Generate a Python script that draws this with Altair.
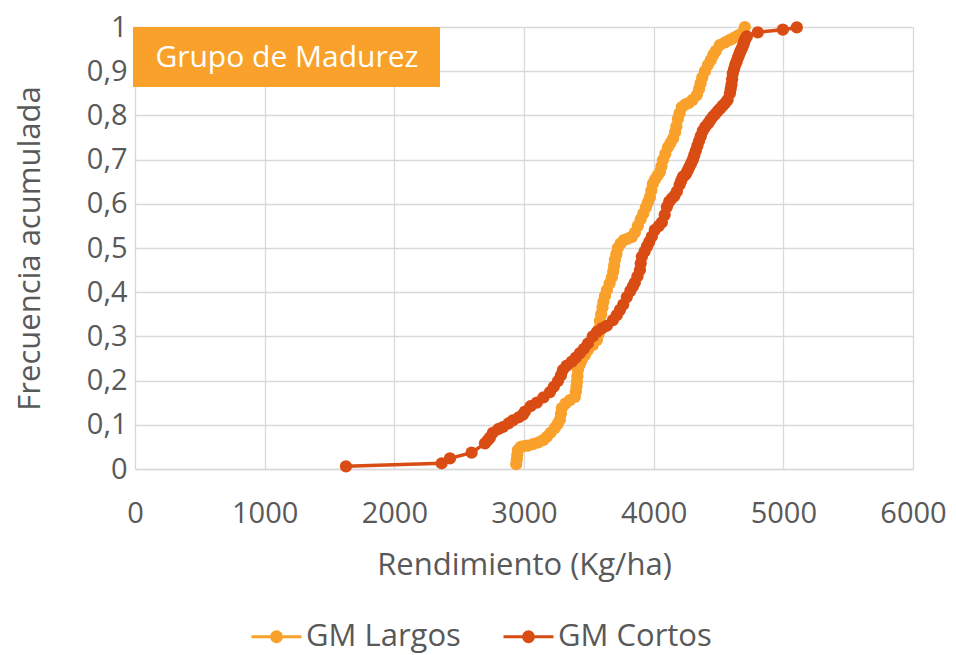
import altair as alt
import pandas as pd

series_names = ["GM Largos", "GM Cortos"]
series_colors = ["#F9A12A", "#D94C13"]

largos_x = [2940, 2945, 2948, 2953, 2975, 3000, 3030, 3069, 3110, 3150, 3177, 3205, 3238, 3260, 3277,
            3285, 3292, 3320, 3354, 3392, 3400, 3405, 3408, 3412, 3416, 3430, 3446, 3470, 3493,
            3530, 3562, 3575, 3580, 3585, 3595, 3605, 3612, 3625, 3639, 3660, 3678, 3688, 3695,
            3701, 3712, 3724, 3745, 3770, 3800, 3832, 3855, 3878, 3900, 3920, 3940, 3955, 3971,
            3982, 3994, 4010, 4030, 4048, 4060, 4071, 4090, 4110, 4130, 4150, 4165, 4175, 4187,
            4200, 4217, 4245, 4270, 4300, 4333, 4350, 4362, 4375, 4395, 4418, 4440, 4460, 4480,
            4510, 4550, 4588, 4615, 4640, 4665, 4690, 4703]
largos_y = [0.011, 0.022, 0.032, 0.043, 0.050, 0.052, 0.053, 0.056, 0.060, 0.066, 0.073, 0.082, 0.093,
            0.102, 0.112, 0.125, 0.138, 0.148, 0.156, 0.163, 0.175, 0.187, 0.197, 0.210, 0.224,
            0.236, 0.247, 0.258, 0.269, 0.280, 0.292, 0.305, 0.318, 0.335, 0.350, 0.365, 0.378,
            0.392, 0.405, 0.420, 0.434, 0.447, 0.460, 0.473, 0.486, 0.500, 0.510, 0.518, 0.521,
            0.525, 0.535, 0.550, 0.565, 0.578, 0.592, 0.603, 0.615, 0.630, 0.645, 0.655, 0.664,
            0.672, 0.685, 0.699, 0.713, 0.728, 0.738, 0.748, 0.762, 0.775, 0.792, 0.805, 0.819,
            0.825, 0.828, 0.835, 0.846, 0.860, 0.873, 0.886, 0.900, 0.914, 0.925, 0.937, 0.946,
            0.959, 0.965, 0.971, 0.975, 0.979, 0.983, 0.988, 1.0]

cortos_x = [1627, 2365, 2429, 2596, 2699, 2720, 2737, 2760, 2800, 2837, 2880, 2914, 2960, 2992,
            3007, 3050, 3099, 3150, 3200, 3230, 3262, 3285, 3300, 3330, 3369, 3400, 3431, 3462,
            3493, 3530, 3562, 3600, 3639, 3686, 3715, 3740, 3765, 3793, 3820, 3840, 3855, 3875,
            3894, 3900, 3909, 3930, 3948, 3966, 3986, 4009, 4040, 4063, 4085, 4102, 4120, 4140,
            4160, 4179, 4200, 4212, 4225, 4238, 4250, 4262, 4275, 4288, 4302, 4313, 4325, 4337,
            4350, 4363, 4379, 4398, 4420, 4438, 4456, 4475, 4495, 4514, 4533, 4552, 4570, 4588,
            4594, 4600, 4605, 4610, 4620, 4630, 4640, 4649, 4657, 4665, 4672, 4680, 4688, 4695,
            4699, 4703, 4711, 4719, 4803, 4996, 5104]
cortos_y = [0.006, 0.013, 0.024, 0.037, 0.058, 0.065, 0.071, 0.082, 0.090, 0.095, 0.103, 0.110,
            0.117, 0.123, 0.130, 0.142, 0.150, 0.162, 0.174, 0.186, 0.199, 0.212, 0.224, 0.234,
            0.243, 0.252, 0.262, 0.272, 0.284, 0.300, 0.310, 0.318, 0.324, 0.337, 0.348, 0.360,
            0.372, 0.389, 0.403, 0.413, 0.422, 0.436, 0.450, 0.465, 0.480, 0.492, 0.503, 0.514,
            0.526, 0.541, 0.550, 0.558, 0.575, 0.593, 0.605, 0.612, 0.618, 0.628, 0.643, 0.652,
            0.661, 0.664, 0.668, 0.675, 0.683, 0.691, 0.700, 0.710, 0.720, 0.731, 0.742, 0.753,
            0.765, 0.774, 0.782, 0.790, 0.797, 0.803, 0.810, 0.816, 0.822, 0.828, 0.835, 0.850,
            0.860, 0.870, 0.882, 0.895, 0.905, 0.915, 0.922, 0.930, 0.936, 0.942, 0.947, 0.952,
            0.957, 0.963, 0.967, 0.971, 0.975, 0.979, 0.988, 0.994, 0.999]

title_text = "Grupo de Madurez"
x_title = "Rendimiento (Kg/ha)"
y_title = "Frecuencia acumulada"

df_l = pd.DataFrame({"x": largos_x, "y": largos_y, "serie": series_names[0], "idx": range(len(largos_x))})
df_c = pd.DataFrame({"x": cortos_x, "y": cortos_y, "serie": series_names[1], "idx": range(len(cortos_x))})

FONT = "Open Sans"
GRAY = "#595959"

color = alt.Color(
    "serie:N",
    scale=alt.Scale(domain=series_names, range=series_colors),
    legend=alt.Legend(
        title=None, orient="none", direction="horizontal",
        legendX=115, legendY=583,
        symbolType="M-1,0H1M-0.2,0A0.2,0.2,0,1,1,0.2,0A0.2,0.2,0,1,1,-0.2,0Z",
        symbolSize=2500, symbolStrokeWidth=3, symbolFillColor=None,
        labelFont=FONT, labelFontSize=31, labelColor=GRAY, labelLimit=300,
        columnPadding=36, symbolOffset=0, labelOffset=3,
    ),
)

xenc = alt.X("x:Q", scale=alt.Scale(domain=[0, 6000], nice=False),
             axis=alt.Axis(title=x_title, values=[0, 1000, 2000, 3000, 4000, 5000, 6000],
                           format="d", titlePadding=22))
yenc = alt.Y("y:Q", scale=alt.Scale(domain=[0, 1], nice=False),
             axis=alt.Axis(title=y_title, values=[i / 10 for i in range(11)],
                           labelExpr="replace(format(datum.value, '.1~f'), '.', ',')",
                           titlePadding=40))

def series_layer(df):
    base = alt.Chart(df).encode(x=xenc, y=yenc, color=color, order="idx:Q")
    return base.mark_line(strokeWidth=3.5) + base.mark_circle(size=150, opacity=1)

box = alt.Chart(pd.DataFrame({"t": [title_text]})).mark_rect(color="#F9A12A").encode(
    x=alt.value(-2), x2=alt.value(305), y=alt.value(0), y2=alt.value(60))
box_text = alt.Chart(pd.DataFrame({"t": [title_text]})).mark_text(
    color="white", font=FONT, fontSize=30, align="center", baseline="middle").encode(
    x=alt.value(152), y=alt.value(31), text="t:N")

chart = alt.layer(series_layer(df_l), series_layer(df_c), box, box_text).properties(
    width=778, height=442,
    autosize=alt.AutoSizeParams(type="none"),
    padding={"left": 127, "top": 19, "right": 35, "bottom": 186},
).configure_view(stroke=None).configure_axis(
    grid=True, gridColor="#D9D9D9", gridWidth=1.3, domain=False, ticks=False,
    labelFont=FONT, labelFontSize=29, labelColor=GRAY, labelFlush=False,
    titleFont=FONT, titleFontSize=31, titleColor=GRAY, titleFontWeight="normal",
).configure_axisX(
    domain=True, domainColor="#D9D9D9", domainWidth=1.3, labelPadding=30,
).configure_axisY(labelPadding=8)

chart.save("out.html", embed_options={"renderer": "svg", "actions": False})
